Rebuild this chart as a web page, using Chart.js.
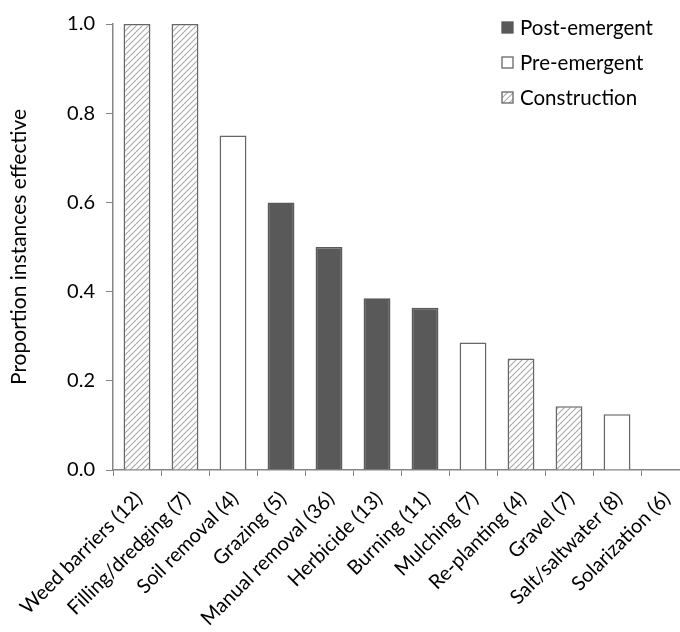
<!DOCTYPE html>
<html>
<head>
<meta charset="utf-8">
<script src="https://cdn.jsdelivr.net/npm/chart.js@4.4.1/dist/chart.umd.min.js"></script>
<style>
  html, body { margin: 0; padding: 0; background: #fff; overflow: hidden; }
  canvas { display: block; }
</style>
</head>
<body>
<canvas id="myChart" width="700" height="632"></canvas>
<script>
// data
const categories = ['Weed barriers (12)', 'Filling/dredging (7)', 'Soil removal (4)', 'Grazing (5)',
  'Manual removal (36)', 'Herbicide (13)', 'Burning (11)', 'Mulching (7)', 'Re-planting (4)',
  'Gravel (7)', 'Salt/saltwater (8)', 'Solarization (6)'];
const values = [1.0, 1.0, 0.75, 0.6, 0.5, 0.385, 0.364, 0.286, 0.25, 0.143, 0.125, 0];
const types = ['Construction', 'Construction', 'Pre-emergent', 'Post-emergent', 'Post-emergent',
  'Post-emergent', 'Post-emergent', 'Pre-emergent', 'Construction', 'Construction', 'Pre-emergent',
  'Pre-emergent'];
const groups = ['Post-emergent', 'Pre-emergent', 'Construction'];
const yTicks = [0, 0.2, 0.4, 0.6, 0.8, 1.0];

const FONT = 'Lato, "Open Sans", sans-serif';
const axisColor = '#868686';

// hatch for construction bars
function makeHatch() {
  const c = document.createElement('canvas');
  c.width = 6; c.height = 6;
  const g = c.getContext('2d');
  g.fillStyle = '#fff';
  g.fillRect(0, 0, 6, 6);
  g.strokeStyle = '#a8a8a8';
  g.lineWidth = 1.1;
  g.beginPath();
  g.moveTo(0, 6); g.lineTo(6, 0);
  g.moveTo(-1, 1); g.lineTo(1, -1);
  g.moveTo(5, 7); g.lineTo(7, 5);
  g.stroke();
  return g.createPattern(c, 'repeat');
}
const hatch = makeHatch();

const styles = {
  'Post-emergent': { fill: '#595959', border: '#595959' },
  'Pre-emergent': { fill: '#ffffff', border: '#666666' },
  'Construction': { fill: hatch, border: '#666666' }
};

const datasets = groups.map(g => ({
  label: g,
  data: values.map((v, i) => types[i] === g ? v : null),
  backgroundColor: styles[g].fill,
  borderColor: styles[g].border,
  borderWidth: 1.6,
  barPercentage: 0.56,
  categoryPercentage: 1.0
}));

// legend drawn inside the plot, top right
const insideLegend = {
  id: 'insideLegend',
  afterDraw(chart) {
    const ctx = chart.ctx;
    ctx.save();
    ctx.font = '20.5px ' + FONT;
    ctx.textBaseline = 'middle';
    chart.data.datasets.forEach((ds, i) => {
      const cy = 27.5 + i * 35;
      ctx.fillStyle = ds.backgroundColor;
      ctx.fillRect(502, cy - 5.5, 11, 11);
      ctx.strokeStyle = ds.borderColor;
      ctx.lineWidth = 1.3;
      ctx.strokeRect(502, cy - 5.5, 11, 11);
      ctx.fillStyle = '#000';
      ctx.fillText(ds.label, 520, cy + 1);
    });
    ctx.restore();
  }
};

new Chart(document.getElementById('myChart').getContext('2d'), {
  type: 'bar',
  data: { labels: categories, datasets: datasets },
  options: {
    responsive: false,
    animation: false,
    layout: { padding: { top: 24, right: 11, bottom: 0, left: 0 } },
    plugins: {
      legend: { display: false },
      tooltip: { enabled: false }
    },
    scales: {
      x: {
        stacked: true,
        grid: { drawOnChartArea: false, color: axisColor, tickLength: 6, tickColor: axisColor },
        border: { color: axisColor, width: 1.5 },
        ticks: {
          color: '#000',
          font: { family: FONT, size: 20 },
          minRotation: 45,
          maxRotation: 45,
          padding: 11,
          labelOffset: 2,
          autoSkip: false
        },
        afterFit(s) { s.height = 162; }
      },
      y: {
        stacked: true,
        min: 0,
        max: 1,
        afterBuildTicks(s) { s.ticks = yTicks.map(v => ({ value: v })); },
        grid: { drawOnChartArea: false, color: axisColor, tickLength: 7, tickColor: axisColor },
        border: { color: axisColor, width: 1.5 },
        ticks: {
          color: '#000',
          font: { family: FONT, size: 20 },
          padding: 11,
          callback: v => v.toFixed(1)
        },
        title: {
          display: true,
          text: 'Proportion instances effective',
          color: '#000',
          font: { family: FONT, size: 21 },
          padding: { top: 7, bottom: 0 }
        },
        afterFit(s) { s.width = 113; }
      }
    }
  },
  plugins: [insideLegend]
});
</script>
</body>
</html>
